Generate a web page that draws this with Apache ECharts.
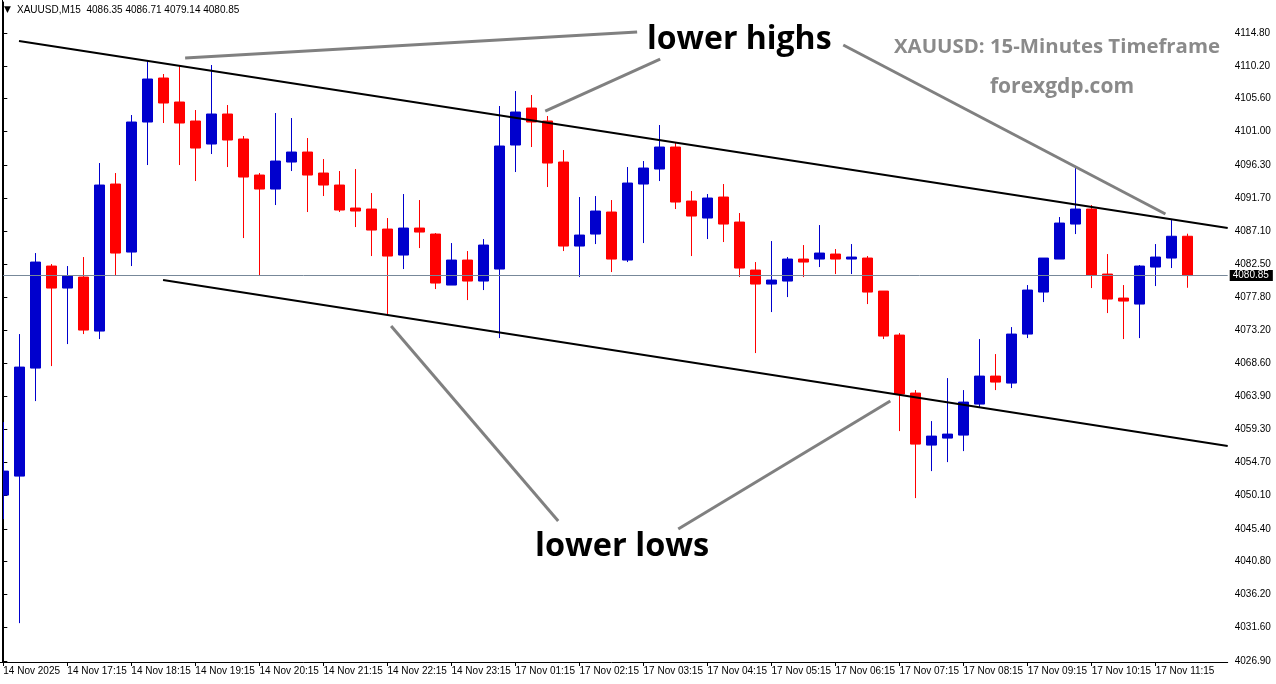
<!DOCTYPE html>
<html>
<head>
<meta charset="utf-8">
<script src="https://cdn.jsdelivr.net/npm/echarts@6/dist/echarts.min.js"></script>
<style>
html,body{margin:0;padding:0;background:#fff;overflow:hidden;width:1276px;height:684px;position:relative;}
#chart{position:absolute;left:-5px;top:0;width:1281px;height:684px;}
</style>
</head>
<body>
<div id="chart"></div>
<script>
const symbolName = 'XAUUSD,M15';
const firstLabel = '14 Nov 2025';
const times = [
'14 Nov 16:15','14 Nov 16:30','14 Nov 16:45','14 Nov 17:00','14 Nov 17:15','14 Nov 17:30','14 Nov 17:45','14 Nov 18:00',
'14 Nov 18:15','14 Nov 18:30','14 Nov 18:45','14 Nov 19:00','14 Nov 19:15','14 Nov 19:30','14 Nov 19:45','14 Nov 20:00',
'14 Nov 20:15','14 Nov 20:30','14 Nov 20:45','14 Nov 21:00','14 Nov 21:15','14 Nov 21:30','14 Nov 21:45','14 Nov 22:00',
'14 Nov 22:15','14 Nov 22:30','14 Nov 22:45','14 Nov 23:00','14 Nov 23:15','14 Nov 23:30','14 Nov 23:45',
'17 Nov 01:00','17 Nov 01:15','17 Nov 01:30','17 Nov 01:45','17 Nov 02:00','17 Nov 02:15','17 Nov 02:30','17 Nov 02:45',
'17 Nov 03:00','17 Nov 03:15','17 Nov 03:30','17 Nov 03:45','17 Nov 04:00','17 Nov 04:15','17 Nov 04:30','17 Nov 04:45',
'17 Nov 05:00','17 Nov 05:15','17 Nov 05:30','17 Nov 05:45','17 Nov 06:00','17 Nov 06:15','17 Nov 06:30','17 Nov 06:45',
'17 Nov 07:00','17 Nov 07:15','17 Nov 07:30','17 Nov 07:45','17 Nov 08:00','17 Nov 08:15','17 Nov 08:30','17 Nov 08:45',
'17 Nov 09:00','17 Nov 09:15','17 Nov 09:30','17 Nov 09:45','17 Nov 10:00','17 Nov 10:15','17 Nov 10:30','17 Nov 10:45',
'17 Nov 11:00','17 Nov 11:15','17 Nov 11:30','17 Nov 11:45'
];
const opens = [4050.12,4052.78,4067.90,4082.18,4079.10,4080.64,4073.08,4093.66,4084.14,4102.34,
4108.50,4105.14,4102.48,4099.26,4103.46,4099.96,4094.92,4092.96,4096.74,4098.14,
4095.20,4093.52,4090.30,4090.16,4087.36,4083.72,4087.50,4086.66,4079.52,4083.02,
4080.08,4081.76,4099.12,4104.30,4102.48,4096.74,4084.98,4086.66,4089.74,4083.02,
4093.66,4095.76,4098.84,4091.28,4088.90,4091.84,4088.34,4081.62,4079.66,4080.08,
4083.16,4083.16,4083.86,4083.16,4083.30,4078.68,4072.52,4064.40,4057.12,4058.10,
4058.52,4062.86,4066.78,4065.80,4072.66,4078.54,4083.16,4088.06,4090.16,4081.06,
4077.70,4076.86,4082.04,4083.30,4086.35];
const closes = [4053.48,4068.04,4082.74,4079.10,4080.78,4073.22,4093.52,4084.00,4102.34,4108.36,
4105.00,4102.20,4098.70,4103.46,4099.82,4094.64,4092.96,4096.88,4098.14,4094.92,
4093.52,4090.02,4089.88,4087.22,4083.58,4087.50,4086.94,4079.80,4083.02,4080.08,
4085.12,4098.98,4103.74,4102.34,4096.60,4084.98,4086.52,4089.88,4083.16,4093.80,
4095.90,4098.84,4091.14,4089.18,4091.70,4088.06,4081.90,4079.66,4080.22,4083.16,
4082.74,4084.00,4083.16,4083.44,4078.54,4072.38,4064.26,4057.26,4058.38,4058.66,
4063.14,4066.78,4065.94,4072.66,4078.82,4083.30,4088.20,4090.16,4080.92,4077.56,
4077.28,4082.18,4083.44,4086.35,4080.85];
const lows = [4046.76,4032.20,4063.28,4068.18,4071.26,4072.66,4071.96,4080.92,4082.18,4096.32,
4102.20,4096.32,4094.08,4097.86,4096.04,4086.10,4080.78,4090.72,4095.48,4089.74,
4091.98,4089.74,4087.64,4083.58,4075.32,4081.76,4084.70,4078.96,4079.52,4077.42,
4078.82,4072.10,4095.34,4098.84,4093.24,4084.28,4080.64,4085.26,4081.34,4082.74,
4085.40,4094.08,4090.16,4083.58,4085.96,4085.54,4080.64,4070.00,4075.74,4077.84,
4080.64,4082.04,4081.06,4081.06,4076.86,4071.96,4059.08,4049.70,4053.48,4054.74,
4056.28,4062.44,4064.82,4065.10,4072.10,4077.14,4083.16,4086.66,4079.10,4075.60,
4071.96,4072.10,4079.38,4081.90,4079.14];
const highs = [4060.34,4072.66,4084.00,4082.46,4082.18,4083.44,4096.60,4095.20,4103.32,4110.88,
4109.06,4110.18,4104.02,4110.32,4104.72,4100.38,4095.20,4103.60,4102.90,4100.10,
4097.16,4095.48,4095.76,4092.40,4088.90,4092.26,4091.42,4086.80,4085.40,4084.28,
4085.96,4104.58,4106.68,4106.12,4103.18,4098.42,4091.84,4091.98,4091.42,4096.04,
4096.88,4101.92,4099.54,4092.68,4092.26,4093.66,4089.60,4082.74,4085.68,4083.44,
4085.12,4087.92,4084.56,4085.26,4083.58,4078.68,4072.80,4064.82,4060.48,4066.50,
4064.82,4071.96,4069.86,4073.64,4079.52,4083.30,4089.04,4095.90,4090.72,4083.86,
4079.52,4082.32,4085.26,4088.62,4086.71];
const yTicks = [4114.80,4110.20,4105.60,4101.00,4096.30,4091.70,4087.10,4082.50,4077.80,4073.20,
4068.60,4063.90,4059.30,4054.70,4050.10,4045.40,4040.80,4036.20,4031.60,4026.90];
// trendlines in [bar index, price]
const upperTrend = [[0.98, 4113.68],[76.5, 4087.51]];
const lowerTrend = [[9.98, 4080.23],[76.5, 4056.99]];
const pointers = [
  [[11.36, 4111.30],[39.6, 4114.94]],
  [[33.86, 4103.88],[41.04, 4111.16]],
  [[52.48, 4113.12],[72.61, 4089.46]],
  [[24.23, 4073.79],[34.67, 4046.49]],
  [[42.17, 4045.37],[55.42, 4063.29]]
];

const n = times.length;
const cats = times.concat(['', '']);
const candles = times.map((t, i) => [opens[i], closes[i], lows[i], highs[i]]);
const last = n - 1;
const lastClose = closes[last];
const f2 = v => v.toFixed(2);
const header = symbolName + '  ' + f2(opens[last]) + ' ' + f2(highs[last]) + ' ' + f2(lows[last]) + ' ' + f2(closes[last]);
const axisFont = 'Liberation Sans';
const OX = 5; // div is shifted 5px left of the page

const chart = echarts.init(document.getElementById('chart'), null, {renderer: 'canvas'});
const lineSeries = (data, color, width, z) => ({
  type: 'line', xAxisIndex: 1, yAxisIndex: 0, data: data, symbol: 'none', silent: true,
  lineStyle: {color: color, width: width}, z: z, animation: false
});
const series = [{
  type: 'candlestick',
  xAxisIndex: 0, yAxisIndex: 0,
  data: candles,
  barWidth: 10,
  silent: true,
  itemStyle: {color: '#0000CD', color0: '#FF0000', borderColor: '#0000CD', borderColor0: '#FF0000', borderWidth: 1},
  markLine: {
    silent: true, symbol: 'none', animation: false,
    lineStyle: {color: '#778899', width: 1, type: 'solid'},
    label: {show: true, position: 'end', distance: 2, formatter: () => f2(lastClose),
      backgroundColor: '#000', color: '#fff', fontFamily: axisFont, fontSize: 10, padding: [1, 4, 0, 3]},
    data: [{yAxis: lastClose}]
  },
  z: 2
}];
series.push(lineSeries(upperTrend, '#000', 2, 5));
series.push(lineSeries(lowerTrend, '#000', 2, 5));
pointers.forEach(p => series.push(lineSeries(p, '#808080', 3, 6)));

chart.setOption({
  animation: false,
  backgroundColor: '#fff',
  grid: {left: 0.3, right: 48.3, top: 2, bottom: 22, containLabel: false},
  xAxis: [{
    type: 'category', data: cats, boundaryGap: true, position: 'bottom',
    axisLine: {show: true, lineStyle: {color: '#000', width: 1}},
    axisTick: {show: true, alignWithLabel: true, length: 4, lineStyle: {color: '#000'},
      interval: (i, v) => i % 4 === 0 && v !== ''},
    axisLabel: {show: true, interval: (i, v) => i % 4 === 0 && v !== '', align: 'left', margin: 4,
      fontFamily: axisFont, fontSize: 10, color: '#000',
      formatter: (v, i) => i === 0 ? firstLabel : v},
    splitLine: {show: false}
  }, {
    type: 'value', min: -0.5, max: n + 1.5, show: false, splitLine: {show: false}
  }],
  yAxis: [{
    type: 'value', position: 'right', min: 4026.76, max: 4119.14, scale: true,
    axisLine: {show: true, lineStyle: {color: '#000', width: 1}},
    axisTick: {show: true, length: 4, inside: false, customValues: yTicks, lineStyle: {color: '#000'}},
    axisLabel: {show: true, customValues: yTicks, formatter: v => f2(v), margin: 7,
      fontFamily: axisFont, fontSize: 10, color: '#000'},
    splitLine: {show: false}
  }],
  series: series,
  graphic: [
    {type: 'rect', shape: {x: 0, y: 0, width: OX + 2, height: 662}, style: {fill: '#fff'}, z: 100, silent: true},
    {type: 'line', shape: {x1: OX + 2.5, y1: 0, x2: OX + 2.5, y2: 662}, style: {stroke: '#000', lineWidth: 1}, z: 101, silent: true},
    {type: 'text', x: OX + 4, y: 10, style: {text: '\u25BC', font: '9px "DejaVu Sans"', fill: '#000', textVerticalAlign: 'middle'}, z: 101},
    {type: 'text', x: OX + 17, y: 10, style: {text: header, font: '10px "Liberation Sans"', fill: '#000', textVerticalAlign: 'middle'}, z: 101},
    {type: 'text', x: OX + 647, y: 40, style: {text: 'lower highs', font: 'bold 32px "Open Sans"', fill: '#000', textVerticalAlign: 'middle'}, z: 101},
    {type: 'text', x: OX + 535, y: 547, style: {text: 'lower lows', font: 'bold 32.5px "Open Sans"', fill: '#000', textVerticalAlign: 'middle'}, z: 101},
    {type: 'text', x: OX + 1220, y: 47, style: {text: 'XAUUSD: 15-Minutes Timeframe', font: 'bold 20.4px "Open Sans"', fill: '#8a8a8a', textAlign: 'right', textVerticalAlign: 'middle'}, z: 101},
    {type: 'text', x: OX + 1062, y: 87, style: {text: 'forexgdp.com', font: 'bold 21px "Open Sans"', fill: '#8a8a8a', textAlign: 'center', textVerticalAlign: 'middle'}, z: 101}
  ]
});
</script>
</body>
</html>
